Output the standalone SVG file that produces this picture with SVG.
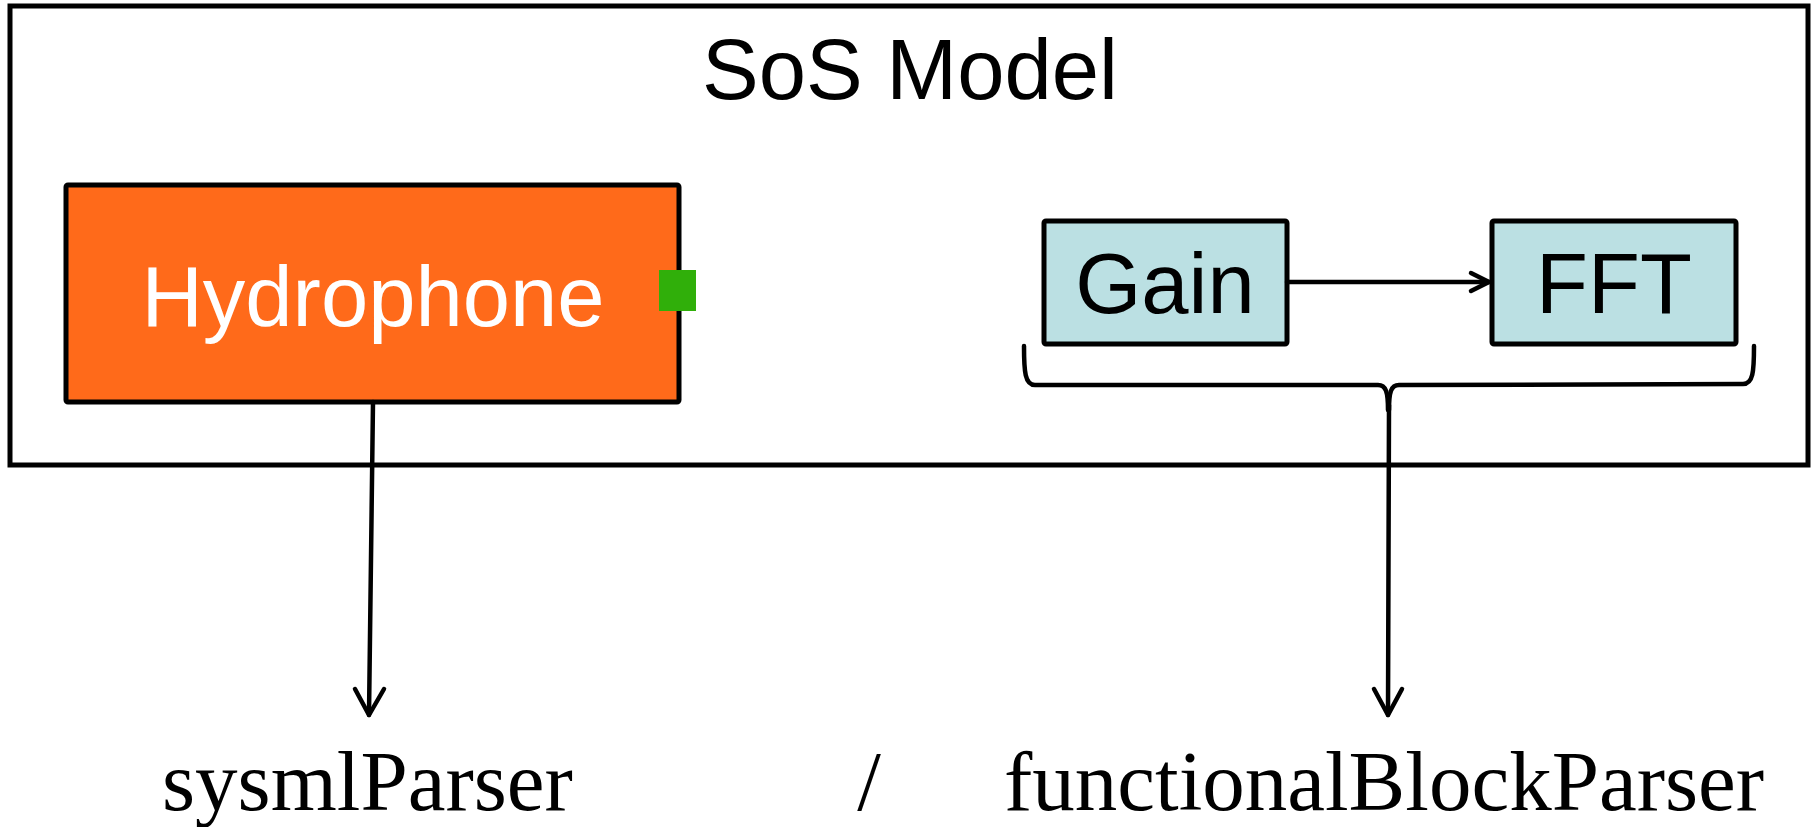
<svg xmlns="http://www.w3.org/2000/svg" width="1820" height="827" viewBox="0 0 1820 827">
  <style>
    .frame { fill: #ffffff; stroke: #000000; stroke-width: 5; }
    .box { stroke: #000000; stroke-width: 5; }
    .sans { font-family: "Liberation Sans", Arial, sans-serif; font-size: 85px; }
    .serif { font-family: "Liberation Serif", "Times New Roman", serif; font-size: 85px; fill: #000000; }
    .wire { fill: none; stroke: #000000; stroke-width: 4.5; stroke-linecap: round; stroke-linejoin: round; }
  </style>

  <rect width="1820" height="827" fill="#ffffff"/>

  <g id="sos-model">
    <rect class="frame" x="10" y="6" width="1798" height="459"/>
    <text class="sans" x="910" y="99" text-anchor="middle" fill="#000000">SoS Model</text>
  </g>

  <g id="hydrophone">
    <rect class="box" x="66" y="185" width="613" height="217" rx="2" fill="#FF6A1A"/>
    <text class="sans" x="373" y="326" text-anchor="middle" fill="#ffffff">Hydrophone</text>
    <rect x="659" y="270" width="37" height="41" fill="#30AF0A"/>
  </g>

  <g id="gain">
    <rect class="box" x="1044" y="221" width="243" height="123" rx="2" fill="#BBE0E3"/>
    <text class="sans" x="1165" y="313" text-anchor="middle" fill="#000000">Gain</text>
  </g>

  <g id="fft">
    <rect class="box" x="1492" y="221" width="244" height="123" rx="2" fill="#BBE0E3"/>
    <text class="sans" x="1614" y="313" text-anchor="middle" fill="#000000">FFT</text>
  </g>

  <g id="connectors">
    <!-- Gain to FFT -->
    <line class="wire" x1="1287" y1="282" x2="1489" y2="282"/>
    <polyline class="wire" points="1471,273 1489,282 1471,291"/>
    <!-- Hydrophone to sysmlParser -->
    <line class="wire" x1="373" y1="402" x2="369" y2="715"/>
    <polyline class="wire" points="355,689 369,715 384,689"/>
    <!-- brace grouping Gain and FFT -->
    <path class="wire" d="M1024,346 C1024,372 1025,385 1035,385 L1378,385 C1386,385 1388,392 1388,410"/>
    <path class="wire" d="M1754,346 C1754,372 1753,384 1743,384 L1399,385 C1391,385 1389,392 1389,410"/>
    <line class="wire" x1="1389" y1="405" x2="1388" y2="715"/>
    <polyline class="wire" points="1374,689 1388,715 1402,689"/>
  </g>

  <g id="labels">
    <text class="serif" x="162" y="810">sysmlParser</text>
    <text class="serif" x="869" y="810" text-anchor="middle">/</text>
    <text class="serif" x="1004" y="810">functionalBlockParser</text>
  </g>
</svg>
